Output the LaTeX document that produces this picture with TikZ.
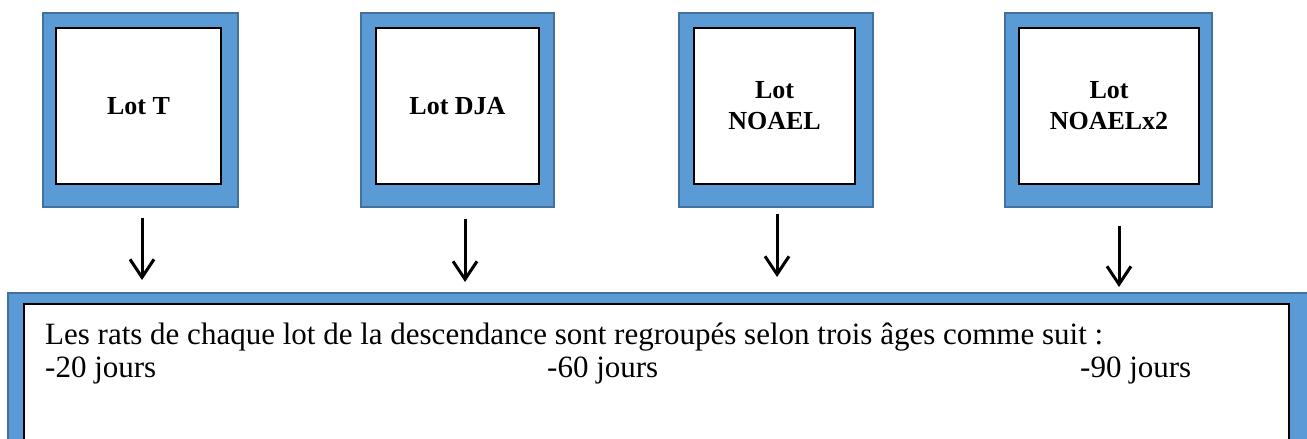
\documentclass[tikz,border=0pt]{standalone}
\usepackage{fontspec}
\setmainfont{Liberation Serif}
\usetikzlibrary{arrows.meta,calc}
\definecolor{frameblue}{HTML}{5B9BD5}
\definecolor{frameedge}{HTML}{41719C}
\tikzset{
  frame/.style={fill=frameblue, draw=frameedge, line width=1.2pt},
  lotbox/.style={draw=black, fill=white, line width=1.3pt, inner sep=0pt,
    align=center, font=\fontsize{26}{31}\selectfont\bfseries},
  bodytext/.style={inner sep=0pt, anchor=base west, font=\fontsize{31}{33}\selectfont},
  flow/.style={line width=3pt, -{Straight Barb[length=18pt,width=24pt,line width=3pt]}}
}
\begin{document}
\begin{tikzpicture}[x=1pt,y=-1pt]
\useasboundingbox (0,0) rectangle (1307,439);
\fill[white] (0,0) rectangle (1307,439);

% four treatment groups
\draw[frame] (43,13) rectangle (238,207);
\node[lotbox, minimum width=165pt, minimum height=156pt] (t1) at (138.5,106) {Lot T};
\draw[frame] (361,13) rectangle (554,207);
\node[lotbox, minimum width=163pt, minimum height=156pt] (t2) at (457.5,106) {Lot DJA};
\draw[frame] (679,13) rectangle (873,207);
\node[lotbox, minimum width=161pt, minimum height=156pt] (t3) at (774.5,106) {Lot\\NOAEL};
\draw[frame] (1005,13) rectangle (1212,207);
\node[lotbox, minimum width=180pt, minimum height=156pt] (t4) at (1109,106) {Lot\\NOAELx2};

% offspring grouping box
\draw[frame] (8,293) rectangle (1312,450);
\node[draw=black, fill=white, line width=1.3pt, minimum width=1265pt, minimum height=150pt, inner sep=0pt] (res) at (656.5,379) {};
\node[bodytext] (l1) at (45,344) {Les rats de chaque lot de la descendance sont regroupés selon trois âges comme suit :};
\node[bodytext] (a20) at (45,377) {-20 jours};
\node[bodytext] (a60) at (547,377) {-60 jours};
\node[bodytext] (a90) at (1080,377) {-90 jours};

% arrows from each group down to the grouping box
\coordinate (s1) at ($(t1.south)+(3.5,33)$);
\coordinate (e1) at (s1 |- 0,280);
\draw[flow] (s1) -- (e1);
\coordinate (s2) at ($(t2.south)+(7.5,34)$);
\coordinate (e2) at (s2 |- 0,282);
\draw[flow] (s2) -- (e2);
\coordinate (s3) at ($(t3.south)+(2.5,29)$);
\coordinate (e3) at (s3 |- 0,277);
\draw[flow] (s3) -- (e3);
\coordinate (s4) at ($(t4.south)+(10,41)$);
\coordinate (e4) at (s4 |- 0,287);
\draw[flow] (s4) -- (e4);
\end{tikzpicture}
\end{document}
